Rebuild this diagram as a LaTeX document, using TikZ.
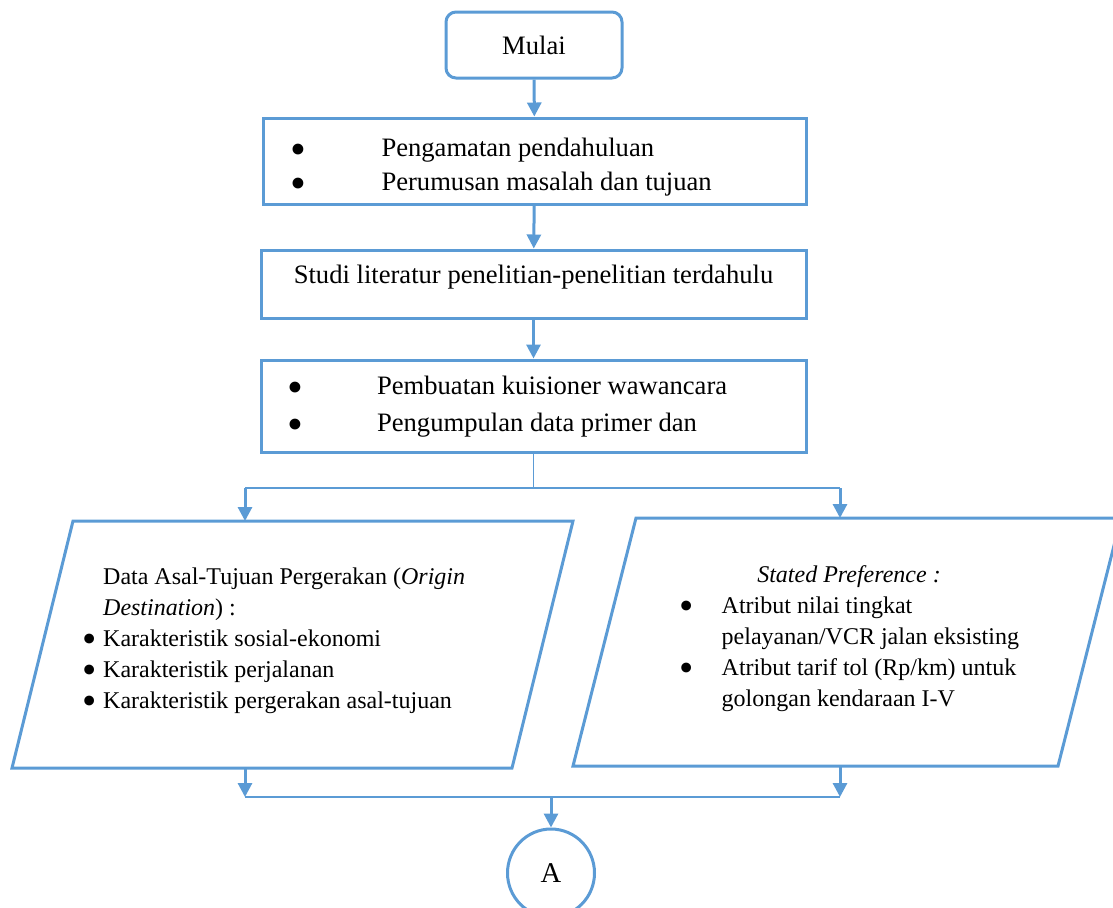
\documentclass[tikz,border=0pt]{standalone}
\usepackage{fontspec}
\setmainfont{Liberation Serif}
\usetikzlibrary{arrows.meta, positioning, shapes.geometric, calc}

\definecolor{flowblue}{RGB}{91,155,213}
\newcommand{\bigdot}{\smash{\raisebox{-0.28em}{\scalebox{1.7}{\textbullet}}}}

\begin{document}
\begin{tikzpicture}[
    x=0.5pt, y=-0.5pt,
    >={Triangle[width=7pt,length=7pt]},
    box/.style={draw=flowblue, line width=1.5pt, minimum width=272.5pt,
                font=\fontsize{13.3}{17}\selectfont, inner sep=0pt},
    startbox/.style={box, rounded corners=5pt, minimum width=88pt,
                     minimum height=33pt},
    paratext/.style={font=\fontsize{12}{15.5}\selectfont, inner sep=0pt},
    parabox/.style={draw=flowblue, line width=1.5pt, line join=miter},
    link/.style={->, flowblue, line width=1.5pt},
    thin/.style={flowblue, line width=0.8pt}
  ]
  \clip (0,0) rectangle (1113,907);

  % start and the three process boxes
  \node[startbox] (mulai) at (534,45) {Mulai};
  \node[box, minimum width=271.5pt, minimum height=43pt] (amat) at (534.5,161)
    {\raisebox{0pt}[\dimexpr\height+6pt\relax][\depth]{%
     \begin{tabular}{@{}l@{\hspace{37.7pt}}l@{\hspace{33.5pt}}}
       \bigdot & Pengamatan pendahuluan\\
       \bigdot & Perumusan masalah dan tujuan
     \end{tabular}}};
  \node[box, minimum height=34pt, text height=9pt, text depth=10pt] (studi)
    at (533.5,284) {Studi literatur penelitian-penelitian terdahulu};
  \node[box, minimum height=46pt, font=\fontsize{13.3}{18.5}\selectfont]
    (data) at (533.5,406)
    {\begin{tabular}{@{}l@{\hspace{36.7pt}}l@{\hspace{26pt}}}
       \bigdot & Pembuatan kuisioner wawancara\\
       \bigdot & Pengumpulan data primer dan
     \end{tabular}};

  % the two input parallelograms
  \coordinate (odBL) at (12,768);
  \coordinate (odTL) at (73,521);
  \coordinate (odTR) at (573,521);
  \coordinate (odBR) at (512,768);
  \draw[parabox] (odBL) -- (odTL) -- (odTR) -- (odBR) -- cycle;
  \node[paratext] (od) at (293,640)
    {\begin{tabular}{@{}l@{\hspace{3pt}}l@{\hspace{19pt}}}
       & Data Asal-Tujuan Pergerakan (\textit{Origin}\\
       & \textit{Destination}) :\\
       \bigdot & Karakteristik sosial-ekonomi\\
       \bigdot & Karakteristik perjalanan\\
       \bigdot & Karakteristik pergerakan asal-tujuan
     \end{tabular}};

  \coordinate (spBL) at (573,766);
  \coordinate (spTL) at (636,518);
  \coordinate (spTR) at (1121,518);
  \coordinate (spBR) at (1058,766);
  \draw[parabox] (spBL) -- (spTL) -- (spTR) -- (spBR) -- cycle;
  \node[paratext] (sp) at (849,638)
    {\begin{tabular}{@{}l@{\hspace{14.2pt}}l@{}}
       \multicolumn{2}{c}{\textit{Stated Preference :}}\\
       \bigdot & Atribut nilai tingkat\\
       & pelayanan/VCR jalan eksisting\\
       \bigdot & Atribut tarif tol (Rp/km) untuk\\
       & golongan kendaraan I-V
     \end{tabular}};

  % off-page connector
  \node[ellipse, draw=flowblue, line width=1.5pt, minimum width=43.5pt,
        minimum height=44pt, font=\fontsize{14.3}{16}\selectfont,
        inner sep=0pt] (conA) at (551,873) {A};

  \coordinate (splitL) at (245,488);
  \coordinate (splitR) at (840,488);
  \coordinate (joinL) at (245,797);
  \coordinate (joinR) at (840,797);
  \coordinate (joinM) at (551,797);

  \draw[link] (mulai) -- (amat);
  \draw[link] (amat) -- (studi);
  \draw[link] (studi) -- (data);

  \draw[thin] (data.south) -- (data.south |- splitL);
  \draw[thin] (splitL) -- (splitR);
  \draw[link] (splitL) -- (splitL |- odTL);
  \draw[link] (splitR) -- (splitR |- spTL);

  \draw[link] (joinL |- odBL) -- (joinL);
  \draw[link] (joinR |- spBL) -- (joinR);
  \draw[thin] (joinL) -- (joinR);
  \draw[link] (joinM) -- (conA.north);
\end{tikzpicture}
\end{document}
